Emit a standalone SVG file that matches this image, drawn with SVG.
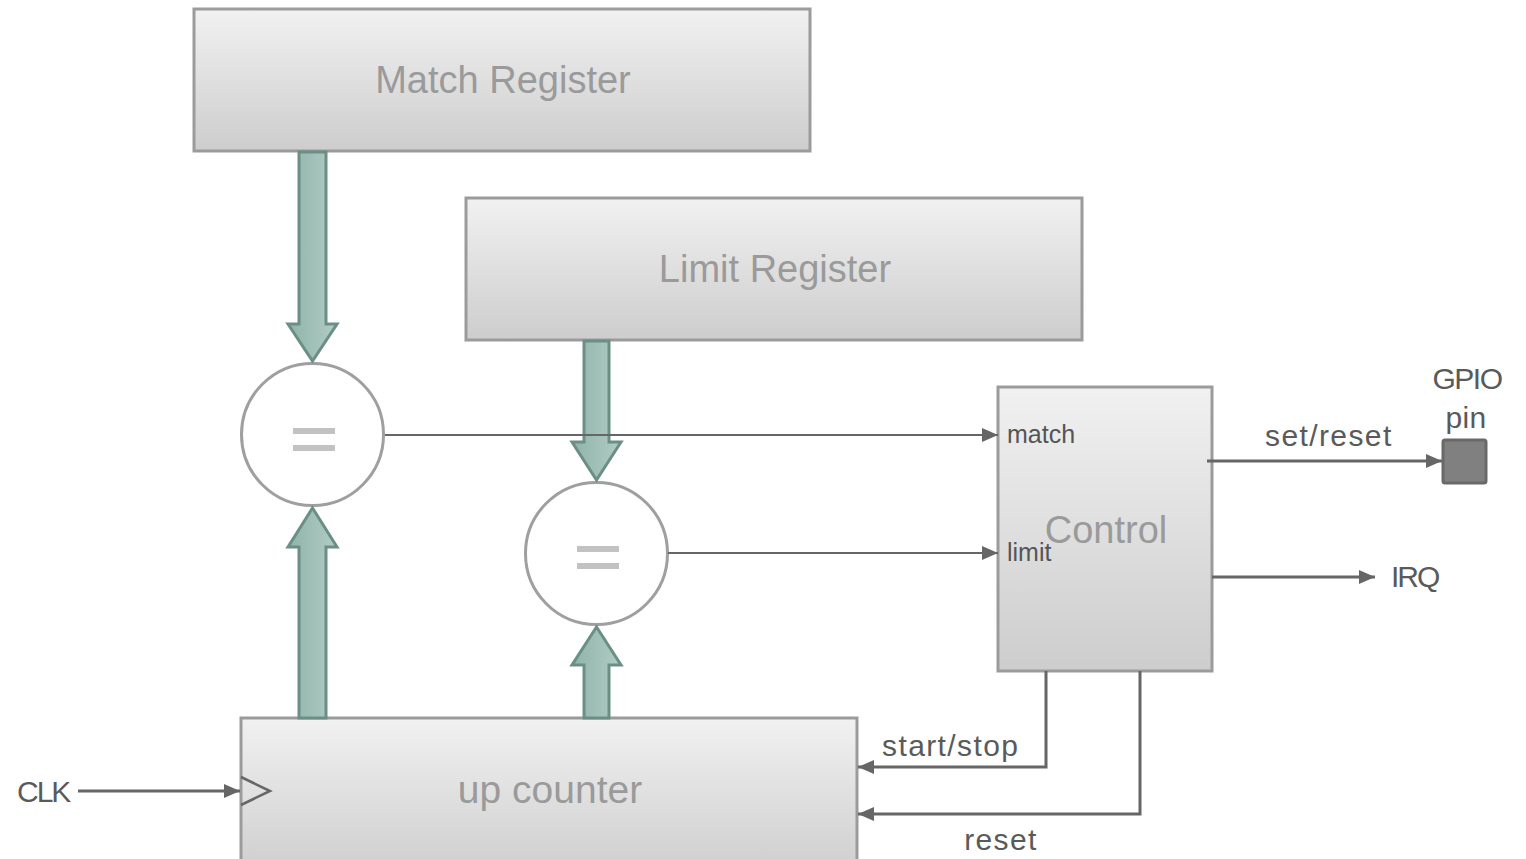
<svg xmlns="http://www.w3.org/2000/svg" width="1526" height="859" viewBox="0 0 1526 859">
  <defs>
    <linearGradient id="boxFill" x1="0" y1="0" x2="0" y2="1">
      <stop offset="0" stop-color="#f1f1f1"/>
      <stop offset="1" stop-color="#cdcdcd"/>
    </linearGradient>
    <linearGradient id="busFill" x1="0" y1="0" x2="1" y2="0">
      <stop offset="0" stop-color="#8fb4aa"/>
      <stop offset="1" stop-color="#b2ccc5"/>
    </linearGradient>
    <marker id="arrow" viewBox="0 0 16 14" refX="16" refY="7" markerWidth="16" markerHeight="14" markerUnits="userSpaceOnUse" orient="auto">
      <path d="M0,0 L16,7 L0,14 Z" fill="#666666"/>
    </marker>
    <style>
      .box { fill: url(#boxFill); stroke: #9b9b9b; stroke-width: 3; }
      .title { font-family: "Liberation Sans", Arial, sans-serif; fill: #9a9a9a; text-anchor: middle; }
      .lbl { font-family: "Liberation Sans", Arial, sans-serif; fill: #5a5a5a; font-size: 30px; letter-spacing: 1.4px; }
      .lbl.tight { letter-spacing: -1.5px; }
      .lbl.narrow { letter-spacing: -2px; }
      .lbl.plain { letter-spacing: 0.3px; }
      .port { font-family: "Liberation Sans", Arial, sans-serif; fill: #555555; font-size: 25px; }
      .cmp { fill: #ffffff; stroke: #9f9f9f; stroke-width: 3; }
      .eq { fill: #c2c2c2; }
      .bus { fill: url(#busFill); stroke: #6b8f85; stroke-width: 3; stroke-linejoin: miter; }
      .wire { fill: none; stroke: #666666; stroke-width: 3; }
      .thin { fill: none; stroke: #666666; stroke-width: 2; }
    </style>
  </defs>

  <rect width="1526" height="859" fill="#ffffff"/>

  <!-- registers -->
  <g id="match-register">
    <rect class="box" x="194" y="9" width="616" height="142"/>
    <text class="title" x="503" y="93" font-size="38">Match Register</text>
  </g>
  <g id="limit-register">
    <rect class="box" x="466" y="198" width="616" height="142"/>
    <text class="title" x="775" y="282" font-size="38">Limit Register</text>
  </g>

  <!-- counter -->
  <g id="up-counter">
    <rect class="box" x="241" y="718" width="616" height="160"/>
    <text class="title" x="550" y="803" font-size="39">up counter</text>
    <path d="M241,777 L270,791 L241,805" fill="none" stroke="#666666" stroke-width="2.5"/>
  </g>

  <!-- control block -->
  <g id="control">
    <rect class="box" x="998" y="387" width="214" height="284"/>
    <text class="title" x="1106" y="543" font-size="38">Control</text>
    <text class="port" x="1007" y="443">match</text>
    <text class="port" x="1007" y="561">limit</text>
  </g>

  <!-- comparators -->
  <g id="compare-match">
    <circle class="cmp" cx="312.5" cy="434.5" r="71"/>
    <rect class="eq" x="293" y="428" width="42" height="6"/>
    <rect class="eq" x="293" y="445" width="42" height="6"/>
  </g>
  <g id="compare-limit">
    <circle class="cmp" cx="596.5" cy="553.5" r="71"/>
    <rect class="eq" x="577" y="546" width="42" height="6"/>
    <rect class="eq" x="577" y="563" width="42" height="6"/>
  </g>

  <!-- output pin -->
  <g id="gpio-pin">
    <rect x="1443" y="440" width="43" height="43" rx="2" fill="#808080" stroke="#696969" stroke-width="3"/>
    <text class="lbl tight" x="1467" y="389" text-anchor="middle">GPIO</text>
    <text class="lbl plain" x="1466" y="428" text-anchor="middle">pin</text>
  </g>

  <g id="irq">
    <text class="lbl narrow" x="1391" y="587">IRQ</text>
  </g>

  <g id="clk">
    <text class="lbl narrow" x="17" y="802">CLK</text>
  </g>

  <!-- connectors -->
  <g id="connectors">
    <!-- wide bus arrows -->
    <path class="bus" d="M299,152 L326,152 L326,324 L337,324 L312.5,361 L288,324 L299,324 Z"/>
    <path class="bus" d="M299,718 L326,718 L326,547 L337,547 L312.5,508 L288,547 L299,547 Z"/>
    <path class="bus" d="M584,341 L609,341 L609,442 L621,442 L596.5,480 L572,442 L584,442 Z"/>
    <path class="bus" d="M584,718 L609,718 L609,665 L621,665 L596.5,627 L572,665 L584,665 Z"/>

    <!-- signal wires -->
    <line class="thin" x1="385" y1="435" x2="998" y2="435" marker-end="url(#arrow)"/>
    <line class="thin" x1="668" y1="553" x2="998" y2="553" marker-end="url(#arrow)"/>
    <line class="wire" x1="1207" y1="461" x2="1442" y2="461" marker-end="url(#arrow)"/>
    <line class="wire" x1="1212" y1="577" x2="1375" y2="577" marker-end="url(#arrow)"/>
    <polyline class="wire" points="1046,671 1046,767 858,767" marker-end="url(#arrow)"/>
    <polyline class="wire" points="1140,671 1140,814 858,814" marker-end="url(#arrow)"/>
    <line class="wire" x1="78" y1="791" x2="240" y2="791" marker-end="url(#arrow)"/>

    <text class="lbl" x="1265" y="446">set/reset</text>
    <text class="lbl" x="882" y="756">start/stop</text>
    <text class="lbl" x="1001" y="850" text-anchor="middle">reset</text>
  </g>
</svg>
